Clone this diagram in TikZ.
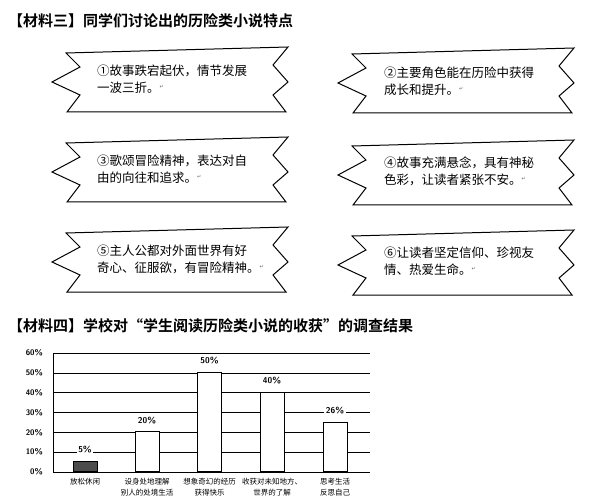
\documentclass[tikz,border=0pt]{standalone}
\usepackage{fontspec}
\usetikzlibrary{positioning}
\newfontfamily\cjk{Noto Sans CJK SC}
\newfontfamily\cjkb{Noto Sans CJK SC}[UprightFont=* Bold]
\newfontfamily\dvs{DejaVu Sans}
\newcommand\rmark{\textsuperscript{\dvs\tiny\color{black!60}↵}}
\begin{document}
\begin{tikzpicture}[x=1pt,y=-1pt,
  ttl/.style={font=\cjkb\fontsize{15}{18}\selectfont, anchor=west, inner sep=0},
  btxt/.style={font=\cjk\fontsize{12.5}{17}\selectfont, anchor=north west, align=left, inner sep=0},
  banner/.style={draw=black, line width=1pt, fill=white, line join=miter},
  ylab/.style={font=\sffamily\bfseries\fontsize{8}{9}\selectfont, anchor=east, inner sep=1pt},
  vlab/.style={font=\sffamily\bfseries\fontsize{8.5}{9}\selectfont, fill=white, inner sep=1.5pt},
  clab/.style={font=\cjk\fontsize{7.5}{11}\selectfont, align=center, anchor=north, inner sep=0},
  grid/.style={draw=black, line width=1pt},
  bar/.style={draw=black, line width=1pt, fill=white, minimum width=24pt, anchor=south, inner sep=0}]
\useasboundingbox (0,0) rectangle (612,502);
\fill[white] (0,0) rectangle (612,502);
\newcommand\bann[2]{%
  \draw[banner] (#1+14,#2+6) -- (#1+236,#2) -- (#1+221,#2+18) -- (#1+236,#2+35) -- (#1+221,#2+48) -- (#1+234,#2+65)
   -- (#1+15,#2+65) -- (#1+28,#2+48) -- (#1,#2+35) -- (#1+28,#2+20) -- cycle;}
\node[ttl] (t1) at (8,21) {【材料三】同学们讨论出的历险类小说特点};
\bann{52}{47}\bann{338}{48}
\bann{52}{137}\bann{338}{140}
\bann{52}{227}\bann{338}{230}
\node[btxt] (b1) at (97,65) {①故事跌宕起伏，情节发展\\一波三折。\rmark};
\node[btxt] (b2) at (384,67) {②主要角色能在历险中获得\\成长和提升。\rmark};
\node[btxt] (b3) at (97,155) {③歌颂冒险精神，表达对自\\由的向往和追求。\rmark};
\node[btxt] (b4) at (384,157) {④故事充满悬念，具有神秘\\色彩，让读者紧张不安。\rmark};
\node[btxt] (b5) at (97,245) {⑤主人公都对外面世界有好\\奇心、征服欲，有冒险精神。\rmark};
\node[btxt] (b6) at (384,247) {⑥让读者坚定信仰、珍视友\\情、热爱生命。\rmark};
\node[ttl] (t2) at (8,326) {【材料四】学校对“学生阅读历险类小说的收获”的调查结果};
% chart
\foreach \p in {0,...,6}{
  \draw[grid] (53,472-19.8*\p) -- (370,472-19.8*\p);
  \node[ylab] at (44,472-19.8*\p) {\pgfmathparse{int(\p*10)}\pgfmathresult\%};}
\draw[grid] (53,353) -- (53,472);
\node[bar, fill=black!70, minimum height=5*1.98pt] (r1) at (85,472) {};
\node[bar, minimum height=20*1.98pt] (r2) at (147,472) {};
\node[bar, minimum height=50*1.98pt] (r3) at (209.5,472) {};
\node[bar, minimum height=40*1.98pt] (r4) at (272,472) {};
\node[bar, minimum height=25*1.98pt] (r5) at (335,472) {};
\node[vlab, above=6pt of r1.north] {5\%};
\node[vlab, above=6pt of r2.north] {20\%};
\node[vlab, above=6pt of r3.north] {50\%};
\node[vlab, above=6pt of r4.north] {40\%};
\node[vlab, above=6pt of r5.north] {26\%};
\node[clab] at (85,478) {放松休闲};
\node[clab] at (147,478) {设身处地理解\\别人的处境生活};
\node[clab] at (209.5,478) {想象奇幻的经历\\获得快乐};
\node[clab] at (272,478) {收获对未知地方、\\世界的了解};
\node[clab] at (335,478) {思考生活\\反思自己};
\end{tikzpicture}
\end{document}
